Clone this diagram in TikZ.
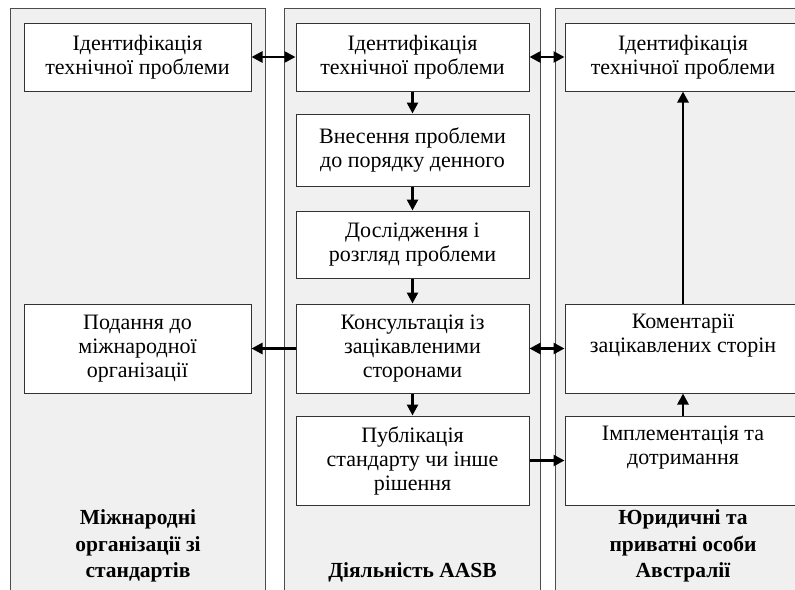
\documentclass[tikz,border=0pt]{standalone}
\usepackage{fontspec}
\setmainfont{Liberation Serif}
\usetikzlibrary{arrows.meta}
\begin{document}
\begin{tikzpicture}[x=1pt,y=-1pt,
  col/.style={draw=black!70, fill=black!6, line width=1pt},
  box/.style={draw=black!80, fill=white, line width=1pt, align=center, inner sep=0pt,
    font=\fontsize{22}{24}\selectfont},
  lbl/.style={align=center, inner sep=0pt, font=\fontsize{21.5}{26.5}\selectfont\bfseries},
  arr/.style={line width=2.6pt, -{Triangle[length=11pt,width=11pt]}},
  darr/.style={line width=2.6pt, {Triangle[length=11pt,width=11pt]}-{Triangle[length=11pt,width=11pt]}}]
\clip (0,0) rectangle (795,589);
% columns
\draw[col] (10,8) rectangle (265,600);
\draw[col] (284,8) rectangle (540,600);
\draw[col] (555,8) rectangle (811,600);
% left column
\node[box, minimum width=227pt, minimum height=68pt] (lt) at (137.5,57) {Ідентифікація\\технічної проблеми};
\node[box, minimum width=227pt, minimum height=89pt] (l2) at (137.5,348.5) {Подання до\\міжнародної\\організації};
% middle column
\node[box, minimum width=233pt, minimum height=68pt] (mt) at (412.5,57) {Ідентифікація\\технічної проблеми};
\node[box, minimum width=233pt, minimum height=72pt] (m2) at (412.5,150) {Внесення проблеми\\до порядку денного};
\node[box, minimum width=233pt, minimum height=67pt] (m3) at (412.5,244.5) {Дослідження і\\розгляд проблеми};
\node[box, minimum width=233pt, minimum height=89pt] (m4) at (412.5,348.5) {Консультація із\\зацікавленими\\сторонами};
\node[box, minimum width=233pt, minimum height=89pt] (m5) at (412.5,460.5) {Публікація\\стандарту чи інше\\рішення};
% right column
\node[box, minimum width=236pt, minimum height=68pt] (rt) at (683,57) {Ідентифікація\\технічної проблеми};
\node[box, minimum width=236pt, minimum height=89pt] (r2) at (683,348.5) {Коментарії\\зацікавлених сторін\\\strut};
\node[box, minimum width=236pt, minimum height=89pt] (r3) at (683,460.5) {Імплементація та\\дотримання\\\strut};
% labels
\node[lbl] (lab1) at (138,546) {Міжнародні\\організації зі\\стандартів};
\node[lbl] (lab2) at (412.5,572) {Діяльність AASB};
\node[lbl] (lab3) at (683,546) {Юридичні та\\приватні особи\\Австралії};
% arrows
\draw[darr] (lt.east) -- (mt.west);
\draw[darr] (mt.east) -- (rt.west);
\draw[arr] (mt.south) -- (m2.north);
\draw[arr] (m2.south) -- (m3.north);
\draw[arr] (m3.south) -- (m4.north);
\draw[arr] (m4.south) -- (m5.north);
\draw[arr] (m4.west) -- (l2.east);
\draw[darr] (m4.east) -- (r2.west);
\draw[arr] (m5.east) -- (r3.west);
\draw[arr] (r3.north) -- (r2.south);
\draw[arr] (r2.north) -- (rt.south);
\end{tikzpicture}
\end{document}
